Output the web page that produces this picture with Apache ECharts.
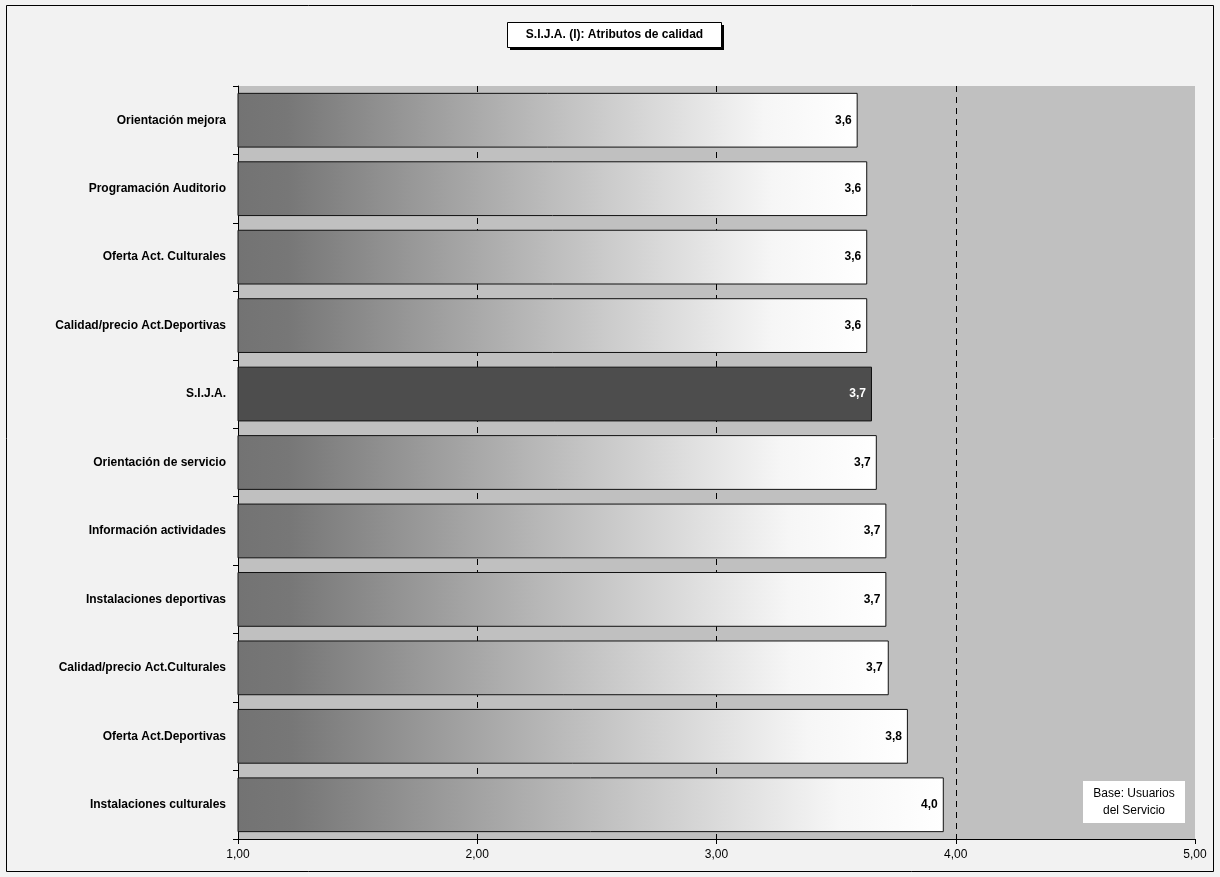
<!DOCTYPE html>
<html>
<head>
<meta charset="utf-8">
<script src="https://cdn.jsdelivr.net/npm/echarts@6/dist/echarts.min.js"></script>
<style>
  html, body { margin: 0; padding: 0; background: #f2f2f2; }
  #chart { width: 1220px; height: 877px; }
</style>
</head>
<body>
<div id="chart"></div>
<script>
// Quality attributes, top to bottom
const categories = [
  'Orientación mejora',
  'Programación Auditorio',
  'Oferta Act. Culturales',
  'Calidad/precio Act.Deportivas',
  'S.I.J.A.',
  'Orientación de servicio',
  'Información actividades',
  'Instalaciones deportivas',
  'Calidad/precio Act.Culturales',
  'Oferta Act.Deportivas',
  'Instalaciones culturales'
];
const scores = [3.59, 3.63, 3.63, 3.63, 3.65, 3.67, 3.71, 3.71, 3.72, 3.80, 3.95];
const overallCategory = 'S.I.J.A.';
const xTicks = [1, 2, 3, 4, 5];
const gridLineValues = [2, 3, 4];
const titleText = 'S.I.J.A. (I): Atributos de calidad';
const noteLines = ['Base: Usuarios', 'del Servicio'];

const FONT = '"Liberation Sans", Arial, sans-serif';
const fmt1 = v => (Math.round(v * 10) / 10).toFixed(1).replace('.', ',');
const fmt2 = v => v.toFixed(2).replace('.', ',');

// horizontal grey-to-white fill used by the attribute bars
const gradient = new echarts.graphic.LinearGradient(0, 0, 1, 0, [
  { offset: 0, color: '#737373' },
  { offset: 0.08, color: '#777777' },
  { offset: 0.5, color: '#bdbdbd' },
  { offset: 0.85, color: '#f6f6f6' },
  { offset: 1, color: '#ffffff' }
]);

const barData = scores.map((v, i) => {
  const isOverall = categories[i] === overallCategory;
  return {
    value: v,
    itemStyle: { color: isOverall ? '#4d4d4d' : gradient },
    label: { color: isOverall ? '#ffffff' : '#000000' }
  };
});

const chart = echarts.init(document.getElementById('chart'), null, { renderer: 'canvas' });
chart.setOption({
  backgroundColor: '#f2f2f2',
  animation: false,
  grid: {
    left: 238, right: 25, top: 86, bottom: 38,
    show: true, backgroundColor: '#c0c0c0', borderWidth: 0
  },
  xAxis: {
    type: 'value',
    min: xTicks[0], max: xTicks[xTicks.length - 1], interval: 1,
    axisLine: { show: true, lineStyle: { color: '#000', width: 1 } },
    axisTick: { show: true, length: 5, lineStyle: { color: '#000' } },
    axisLabel: { fontFamily: FONT, fontSize: 12, color: '#000', margin: 10, formatter: fmt2 },
    splitLine: { show: false }
  },
  yAxis: {
    type: 'category',
    data: categories,
    inverse: true,
    axisLine: { show: true, lineStyle: { color: '#000', width: 1 } },
    axisTick: { show: true, length: 5, lineStyle: { color: '#000' } },
    axisLabel: { fontFamily: FONT, fontSize: 12, fontWeight: 'bold', color: '#000', margin: 12 },
    splitLine: { show: false }
  },
  series: [
    {
      // vertical dashed gridlines, kept behind the bars
      type: 'scatter',
      data: [],
      z: 1,
      silent: true,
      markLine: {
        z: 1,
        symbol: ['none', 'none'],
        silent: true,
        label: { show: false },
        lineStyle: { color: '#000', type: [6, 5], width: 1 },
        data: gridLineValues.map(v => ({ xAxis: v }))
      }
    },
    {
      type: 'bar',
      z: 3,
      data: barData,
      barCategoryGap: '20%',
      itemStyle: { borderColor: '#111', borderWidth: 1 },
      label: {
        show: true,
        position: 'insideRight',
        distance: 6,
        fontFamily: FONT,
        fontSize: 12,
        fontWeight: 'bold',
        formatter: p => fmt1(p.value)
      }
    }
  ],
  graphic: [
    // outer frame
    { type: 'rect', shape: { x: 6.5, y: 5.5, width: 1207, height: 866 },
      style: { fill: null, stroke: '#000', lineWidth: 1 }, silent: true },
    // title box with shadow
    { type: 'rect', shape: { x: 510, y: 25, width: 214, height: 25 },
      style: { fill: '#000' }, silent: true },
    { type: 'rect', shape: { x: 507.5, y: 22.5, width: 214, height: 25 },
      style: { fill: '#fff', stroke: '#000', lineWidth: 1 }, silent: true },
    { type: 'text', x: 614.5, y: 35, style: {
        text: titleText, fontFamily: FONT, fontSize: 12, fontWeight: 'bold',
        fill: '#000', align: 'center', verticalAlign: 'middle' }, silent: true },
    // note box
    { type: 'rect', shape: { x: 1083, y: 781, width: 102, height: 42 },
      style: { fill: '#fff' }, silent: true },
    { type: 'text', x: 1134, y: 802, style: {
        text: noteLines.join('\n'), fontFamily: FONT, fontSize: 12, lineHeight: 17,
        fill: '#000', align: 'center', verticalAlign: 'middle' }, silent: true }
  ]
});
</script>
</body>
</html>
